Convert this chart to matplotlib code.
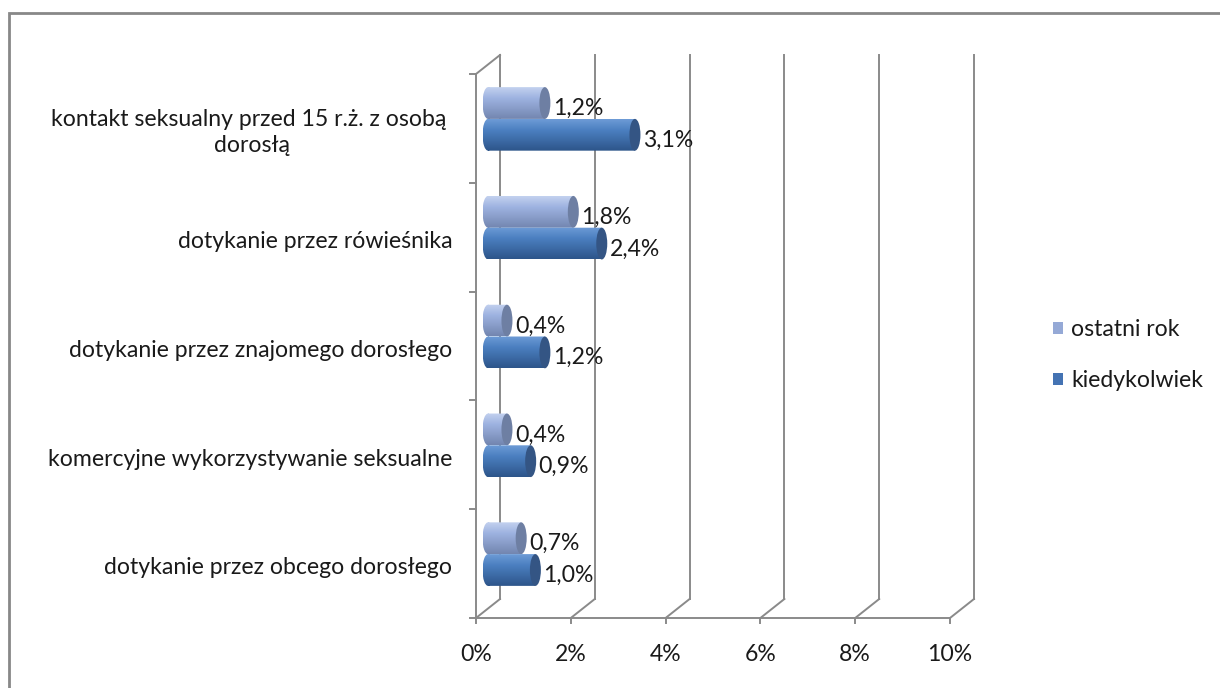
import numpy as np
import matplotlib
matplotlib.use("Agg")
import matplotlib.pyplot as plt
from matplotlib.patches import Ellipse, Rectangle, Patch
from matplotlib.path import Path
from matplotlib.transforms import Affine2D
from matplotlib.colors import to_rgb

categories = [
    "kontakt seksualny przed 15 r.ż. z osobą \ndorosłą",
    "dotykanie przez rówieśnika",
    "dotykanie przez znajomego dorosłego",
    "komercyjne wykorzystywanie seksualne",
    "dotykanie przez obcego dorosłego",
]
series_names = ["ostatni rok", "kiedykolwiek"]
ostatni_rok = [1.2, 1.8, 0.4, 0.4, 0.7]
kiedykolwiek = [3.1, 2.4, 1.2, 0.9, 1.0]
x_ticks = [0, 2, 4, 6, 8, 10]
x_tick_labels = ["0%", "2%", "4%", "6%", "8%", "10%"]

FONT = "Lato"
FS = 16.6
TXT = "#1a1a1a"
plt.rcParams["font.family"] = [FONT, "DejaVu Sans"]

W, H = 1220, 688
fig = plt.figure(figsize=(W / 100, H / 100), dpi=100)
ax = fig.add_axes([476 / W, 1 - 618 / H, 474 / W, 544 / H])
ax.set_xlim(0, 10)
ax.set_ylim(4.5, -0.5)
ax.axis("off")

DX = 24 / 47.4      # depth offset in x units
DY = -19 / 108.8    # depth offset in y units
GRID = "#8a8a8a"
LW = 1.4

# back wall gridlines, floor, ticks
for k, lab in zip(x_ticks, x_tick_labels):
    ax.plot([k + DX, k + DX], [-0.5 + DY, 4.5 + DY], color=GRID, lw=LW, clip_on=False, zorder=1)
    ax.plot([k, k + DX], [4.5, 4.5 + DY], color=GRID, lw=LW, clip_on=False, zorder=1)
    ax.plot([k, k], [4.5, 4.5 + 0.05], color=GRID, lw=LW, clip_on=False, zorder=1)
    ax.text(k, 4.84, lab, ha="center", va="center", fontsize=FS, color=TXT)
ax.plot([0, 10], [4.5, 4.5], color=GRID, lw=LW, clip_on=False, zorder=1)
ax.plot([0, 0], [-0.5, 4.5], color=GRID, lw=LW, clip_on=False, zorder=1)
ax.plot([0, DX], [-0.5, -0.5 + DY], color=GRID, lw=LW, clip_on=False, zorder=1)
for b in np.arange(-0.5, 4.51, 1.0):
    ax.plot([-0.13, 0], [b, b], color=GRID, lw=LW, clip_on=False, zorder=1)

# category labels
for i, lab in enumerate(categories):
    ax.text(-0.5, i + 0.04, lab, ha="right", va="center", multialignment="center",
            fontsize=FS, color=TXT, linespacing=1.3)

# cylinders
BH = 0.292
RX = 5.5 / 47.4


def gradient(c_top, c_mid, c_bot, n=64):
    t = np.linspace(0, 1, n)[:, None]
    top, mid, bot = (np.array(to_rgb(c)) for c in (c_top, c_mid, c_bot))
    a = np.where(t < 0.35, top + (mid - top) * (t / 0.35),
                 mid + (bot - mid) * ((t - 0.35) / 0.65))
    return a[:, None, :].repeat(2, axis=1)


styles = {
    0: dict(top="#c3d1ef", mid="#9db2e0", bot="#7386b0", cap="#6e7fa3", leg="#95a9d6"),
    1: dict(top="#6d9bd6", mid="#4b7fc0", bot="#2d558a", cap="#345584", leg="#4473b3"),
}

for s, vals in enumerate([ostatni_rok, kiedykolwiek]):
    st = styles[s]
    grad = gradient(st["top"], st["mid"], st["bot"])
    for i, v in enumerate(vals):
        yc = i + DY / 2 + (BH / 2 if s == 1 else -BH / 2)
        x0 = DX / 2
        x1 = x0 + v
        y_top = yc - BH / 2
        y_bot = yc + BH / 2
        rect = Path.unit_rectangle().transformed(
            Affine2D().scale(x1 - x0, BH).translate(x0, y_top))
        ell = Path.unit_circle().transformed(
            Affine2D().scale(RX, BH / 2).translate(x0, yc))
        clip = Path.make_compound_path(rect, ell)
        im = ax.imshow(grad, extent=(x0 - RX, x1, y_bot, y_top), aspect="auto",
                       interpolation="bilinear", zorder=3 + s, origin="upper")
        im.set_clip_path(clip, ax.transData)
        ax.add_patch(Ellipse((x1, yc), 2 * RX, BH, facecolor=st["cap"],
                             edgecolor="none", zorder=3.5 + s, clip_on=False))
        ax.text(x1 + RX + 0.05, yc + 0.05, f"{v:.1f}%".replace(".", ","),
                ha="left", va="center", fontsize=FS, color=TXT, zorder=6)

ax.set_xlim(0, 10)
ax.set_ylim(4.5, -0.5)

handles = [Patch(facecolor=styles[s]["leg"], edgecolor="none") for s in range(2)]
fig.legend(handles, series_names, loc="center left",
           bbox_to_anchor=(1032 / W, 1 - 355 / H), frameon=False,
           handlelength=0.45, handleheight=0.45, labelspacing=1.3,
           handletextpad=0.35, fontsize=FS, labelcolor=TXT)

fig.patches.append(Rectangle((9 / W, -0.2), 1.2, (H - 13) / H + 0.2,
                             transform=fig.transFigure, fill=False,
                             edgecolor="#888888", lw=2))

fig.savefig("out.png", dpi=100)
